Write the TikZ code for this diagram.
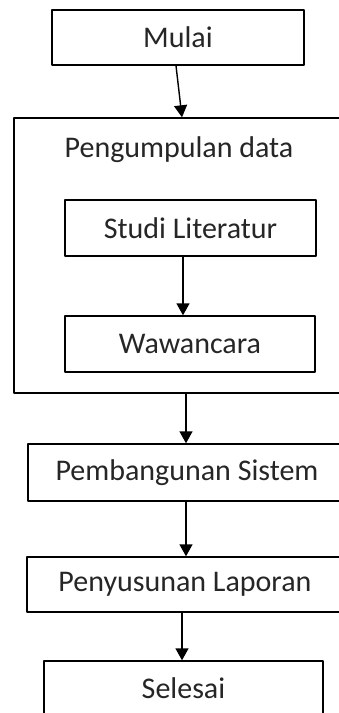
\documentclass[tikz,border=0pt]{standalone}
\usepackage{fontspec}
\setmainfont{Carlito}
\usetikzlibrary{arrows.meta}
\begin{document}
\begin{tikzpicture}[x=1pt, y=-1pt, line width=1.4pt, line join=round,
  font=\fontsize{30}{36}\selectfont, text=black!85,
  box/.style={draw, rectangle, inner sep=0pt, minimum height=56pt},
  arr/.style={-{Triangle[width=13pt,length=12pt]}}]
% Ukuran gambar (piksel)
\useasboundingbox (0,0) rectangle (339,713);
\clip (0,0) rectangle (339,713);
\fill[white] (0,0) rectangle (339,713);
% Kotak-kotak
\node[box, minimum width=252pt, minimum height=55pt] (mulai) at (178,37.5) {Mulai};
\node[box, minimum width=330pt, minimum height=275pt] (data) at (179,255.5) {};
\node (pengumpulan) at (179,150) {Pengumpulan data};
\node[box, minimum width=251pt] (studi) at (190.5,228) {Studi Literatur};
\node[box, minimum width=250pt] (wawancara) at (190,344) {Wawancara};
\node[box, minimum width=318pt, minimum height=57pt] (pembangunan) at (187,472.5) {Pembangunan Sistem};
\node[box, minimum width=316pt, minimum height=55pt] (penyusunan) at (185,584.5) {Penyusunan Laporan};
\node[box, minimum width=279pt, minimum height=55pt] (selesai) at (183.5,688.5) {Selesai};
% Panah
\draw[arr] ([xshift=-2pt]mulai.south) -- ([xshift=3pt]data.north);
\draw[arr] (studi.south -| 183,0) -- (wawancara.north -| 183,0);
\draw[arr] (data.south -| 186,0) -- (pembangunan.north -| 186,0);
\draw[arr] (pembangunan.south -| 186,0) -- (penyusunan.north -| 186,0);
\draw[arr] (penyusunan.south -| 182,0) -- (selesai.north -| 182,0);
\end{tikzpicture}
\end{document}
